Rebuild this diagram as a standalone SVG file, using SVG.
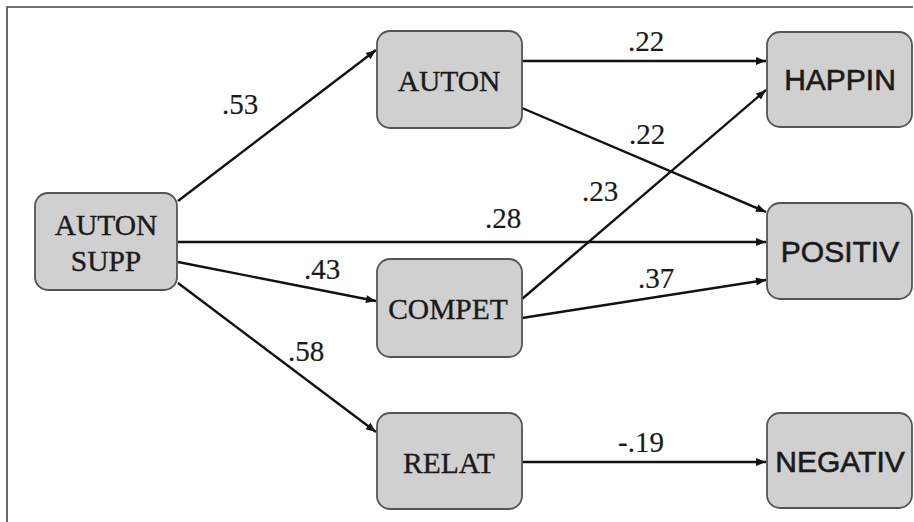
<svg xmlns="http://www.w3.org/2000/svg" width="914" height="522" viewBox="0 0 914 522">
  <defs>
    <marker id="arrow" viewBox="0 0 10 8" refX="10" refY="4" markerWidth="11" markerHeight="8" markerUnits="userSpaceOnUse" orient="auto">
      <path d="M0,0 L10,4 L0,8 Z" fill="#111"/>
    </marker>
  </defs>
  <style>
    .box { fill: #d0d0d0; stroke: #555; stroke-width: 1.8; }
    .serif { font-family: "Liberation Serif", "Times New Roman", serif; font-size: 29.5px; fill: #1a1a1a; stroke: #1a1a1a; stroke-width: 0.35; text-anchor: middle; }
    .sans { font-family: "Liberation Sans", Arial, sans-serif; font-size: 30px; fill: #1a1a1a; stroke: #1a1a1a; stroke-width: 0.6; text-anchor: middle; }
    .edge { stroke: #111; stroke-width: 2.4; fill: none; marker-end: url(#arrow); }
    .coef { font-family: "Liberation Serif", "Times New Roman", serif; font-size: 29px; fill: #1a1a1a; stroke: #1a1a1a; stroke-width: 0.2; text-anchor: middle; }
    .frame { stroke: #444; stroke-width: 1.6; fill: none; }
  </style>
  <rect width="914" height="522" fill="#ffffff"/>

  <!-- outer frame: top and left rules only -->
  <path class="frame" d="M913,7 H7 V522"/>

  <g id="connectors">
    <line class="edge" x1="178" y1="201" x2="376" y2="50"/>
    <line class="edge" x1="522" y1="61" x2="766" y2="61"/>
    <line class="edge" x1="522" y1="108" x2="766" y2="212"/>
    <line class="edge" x1="522" y1="299" x2="766" y2="90"/>
    <line class="edge" x1="178" y1="242" x2="766" y2="242"/>
    <line class="edge" x1="522" y1="318" x2="766" y2="280"/>
    <line class="edge" x1="178" y1="262" x2="376" y2="301"/>
    <line class="edge" x1="178" y1="283" x2="376" y2="432"/>
    <line class="edge" x1="522" y1="462" x2="766" y2="462"/>
  </g>

  <g id="coefficients">
    <text class="coef" x="240" y="114">.53</text>
    <text class="coef" x="646" y="51">.22</text>
    <text class="coef" x="647" y="144">.22</text>
    <text class="coef" x="600" y="201">.23</text>
    <text class="coef" x="503" y="228">.28</text>
    <text class="coef" x="322" y="279">.43</text>
    <text class="coef" x="656" y="288">.37</text>
    <text class="coef" x="306" y="361">.58</text>
    <text class="coef" x="641" y="452">-.19</text>
  </g>

  <g id="auton-supp">
    <rect class="box" x="35" y="193" width="142" height="97" rx="13"/>
    <text class="serif" x="106" y="235">AUTON</text>
    <text class="serif" x="106" y="271">SUPP</text>
  </g>
  <g id="auton">
    <rect class="box" x="377" y="31" width="145" height="97" rx="13"/>
    <text class="serif" x="449" y="91">AUTON</text>
  </g>
  <g id="compet">
    <rect class="box" x="377" y="259" width="145" height="98" rx="13"/>
    <text class="serif" x="448" y="319">COMPET</text>
  </g>
  <g id="relat">
    <rect class="box" x="377" y="413" width="145" height="96" rx="13"/>
    <text class="serif" x="449" y="473">RELAT</text>
  </g>
  <g id="happin">
    <rect class="box" x="767" y="32" width="145" height="95" rx="13"/>
    <text class="sans" x="840" y="90">HAPPIN</text>
  </g>
  <g id="positiv">
    <rect class="box" x="767" y="203" width="145" height="96" rx="13"/>
    <text class="sans" x="840" y="262">POSITIV</text>
  </g>
  <g id="negativ">
    <rect class="box" x="767" y="413" width="145" height="95" rx="13"/>
    <text class="sans" x="840" y="472">NEGATIV</text>
  </g>
</svg>
